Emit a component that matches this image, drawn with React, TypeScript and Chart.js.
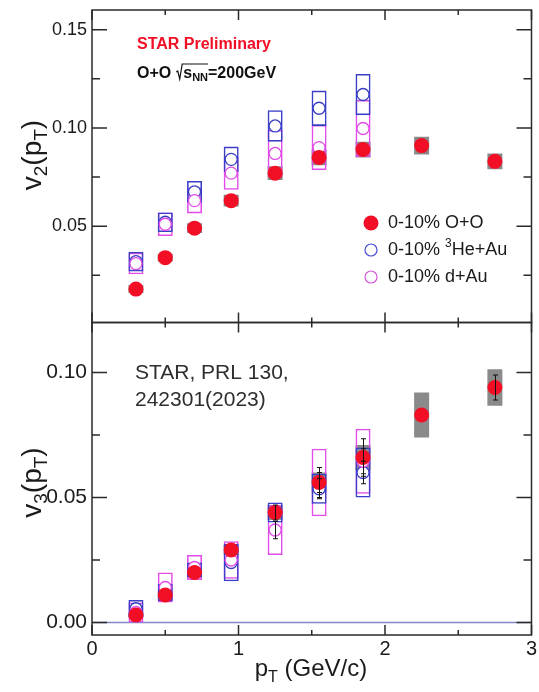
import React, { useEffect, useRef } from "react";
import { Chart, registerables } from "chart.js";

Chart.register(...registerables);

const FONT = "'Liberation Sans', Arial, Helvetica, sans-serif";

// ---- data ----
const pT = [0.3, 0.5, 0.7, 0.95, 1.25, 1.55, 1.85, 2.25, 2.75];
const pTSmall = [0.3, 0.5, 0.7, 0.95, 1.25, 1.55, 1.85];

const v2OO = [0.018, 0.034, 0.049, 0.063, 0.077, 0.085, 0.089, 0.091, 0.083];
const v2OOSys = [0.002, 0.002, 0.0025, 0.003, 0.0035, 0.004, 0.004, 0.0045, 0.004];
const v2HeAu = [0.032, 0.052, 0.0675, 0.084, 0.101, 0.11, 0.117];
const v2HeAuSys = [0.005, 0.005, 0.0055, 0.0065, 0.008, 0.009, 0.0105];
const v2dAu = [0.031, 0.051, 0.063, 0.077, 0.087, 0.09, 0.0997];
const v2dAuSys = [0.0055, 0.006, 0.0065, 0.0085, 0.012, 0.0115, 0.0145];

const v3OO = [0.003, 0.011, 0.02, 0.029, 0.044, 0.056, 0.066, 0.083, 0.094];
const v3OOStat = [0.001, 0.001, 0.001, 0.0015, 0.002, 0.006, 0.0075, 0.0025, 0.005];
const v3OOSys = [0.001, 0.0015, 0.002, 0.002, 0.003, 0.004, 0.005, 0.009, 0.0073];
const v3HeAu = [0.0055, 0.012, 0.021, 0.024, 0.044, 0.0535, 0.06];
const v3HeAuStat = [0.001, 0.001, 0.0015, 0.002, 0.003, 0.004, 0.0045];
const v3HeAuSys = [0.0035, 0.0035, 0.003, 0.0075, 0.004, 0.006, 0.01];
const v3dAu = [0.004, 0.014, 0.022, 0.025, 0.037, 0.056, 0.0645];
const v3dAuStat = [0.001, 0.0015, 0.002, 0.002, 0.0035, 0.004, 0.005];
const v3dAuSys = [0.004, 0.006, 0.005, 0.0075, 0.01, 0.0135, 0.013];

const xTicks = [0, 1, 2, 3];
const xTickLabels = ["0", "1", "2", "3"];
const xMinorTicks = [0.5, 1.5, 2.5];
const v2Ticks = [0.05, 0.1, 0.15];
const v2TickLabels = ["0.05", "0.10", "0.15"];
const v2MinorTicks = [0.025, 0.075, 0.125];
const v3Ticks = [0, 0.05, 0.1];
const v3TickLabels = ["0.00", "0.05", "0.10"];
const v3MinorTicks = [0.025, 0.075];

const legendLabels = ["0-10% O+O", "0-10% ", "0-10% d+Au"];

// ---- colours ----
const RED = "rgb(242,14,36)";
const BLUE = "#3a3fc6";
const MAG = "#e24ce8";
const GRAY = "#8a8a8a";
const FRAME = "#2a2a2a";

type Part = { t: string; size: number; dy?: number; bold?: boolean; color?: string };

function richWidth(ctx: CanvasRenderingContext2D, parts: Part[]) {
  let w = 0;
  for (const p of parts) {
    ctx.font = `${p.bold ? "bold " : ""}${p.size}px ${FONT}`;
    w += ctx.measureText(p.t).width;
  }
  return w;
}

function drawRich(ctx: CanvasRenderingContext2D, x: number, y: number, parts: Part[], color: string) {
  let cx = x;
  for (const p of parts) {
    ctx.font = `${p.bold ? "bold " : ""}${p.size}px ${FONT}`;
    ctx.fillStyle = p.color || color;
    ctx.fillText(p.t, cx, y + (p.dy || 0));
    cx += ctx.measureText(p.t).width;
  }
  return cx;
}

function boxDataset(label: string, xs: number[], ys: number[], errs: number[], axis: string, stroke: string, fill: string, order: number) {
  return {
    type: "bar" as const,
    label,
    data: xs.map((x, i) => ({ x, y: [ys[i] - errs[i], ys[i] + errs[i]] })),
    xAxisID: "x",
    yAxisID: axis,
    backgroundColor: fill,
    borderColor: stroke,
    borderWidth: fill === "transparent" ? 1.6 : 0,
    borderSkipped: false,
    barThickness: 15,
    grouped: false,
    inflateAmount: 0,
    order,
  };
}

function pointDataset(label: string, xs: number[], ys: number[], axis: string, stroke: string, fill: string, radius: number, bw: number, order: number) {
  return {
    type: "scatter" as const,
    label,
    data: xs.map((x, i) => ({ x, y: ys[i] })),
    xAxisID: "x",
    yAxisID: axis,
    showLine: false,
    pointStyle: "circle",
    pointRadius: radius,
    pointBackgroundColor: fill,
    pointBorderColor: stroke,
    pointBorderWidth: bw,
    order,
  };
}

const decorPlugin = {
  id: "decor",
  beforeDatasetsDraw(chart: any) {
    const { ctx } = chart;
    const x = chart.scales.x;
    const yb = chart.scales.yBot;
    const y0 = yb.getPixelForValue(0);
    ctx.save();
    ctx.strokeStyle = "#7f88c8";
    ctx.lineWidth = 1.5;
    ctx.beginPath();
    ctx.moveTo(x.left, y0);
    ctx.lineTo(x.right, y0);
    ctx.stroke();
    ctx.restore();
  },
  afterDatasetsDraw(chart: any) {
    const { ctx } = chart;
    const x = chart.scales.x;
    const yt = chart.scales.yTop;
    const yb = chart.scales.yBot;
    const L = x.left;
    const R = x.right;

    ctx.save();
    // error bars (bottom panel)
    const drawErr = (xs: number[], ys: number[], errs: number[], sc: any, minPx: number) => {
      ctx.strokeStyle = "#111";
      ctx.lineWidth = 1;
      xs.forEach((xv, i) => {
        const px = Math.round(x.getPixelForValue(xv)) + 0.5;
        const top = sc.getPixelForValue(ys[i] + errs[i]);
        const bot = sc.getPixelForValue(ys[i] - errs[i]);
        if ((bot - top) / 2 <= minPx) return;
        ctx.beginPath();
        ctx.moveTo(px, top);
        ctx.lineTo(px, bot);
        ctx.moveTo(px - 2.5, top);
        ctx.lineTo(px + 2.5, top);
        ctx.moveTo(px - 2.5, bot);
        ctx.lineTo(px + 2.5, bot);
        ctx.stroke();
      });
    };
    drawErr(pTSmall, v3HeAu, v3HeAuStat, yb, 6.5);
    drawErr(pTSmall, v3dAu, v3dAuStat, yb, 6.5);
    drawErr(pT, v3OO, v3OOStat, yb, 7.5);

    // frames and ticks
    const panels = [
      { s: yt, major: v2Ticks, minor: v2MinorTicks },
      { s: yb, major: v3Ticks, minor: v3MinorTicks },
    ];
    ctx.strokeStyle = FRAME;
    ctx.lineWidth = 1.5;
    for (const p of panels) {
      const T = p.s.top;
      const B = p.s.bottom;
      ctx.strokeRect(L, T, R - L, B - T);
      ctx.beginPath();
      for (const v of p.major) {
        const py = p.s.getPixelForValue(v);
        ctx.moveTo(L, py); ctx.lineTo(L + 15, py);
        ctx.moveTo(R, py); ctx.lineTo(R - 15, py);
      }
      for (const v of p.minor) {
        const py = p.s.getPixelForValue(v);
        ctx.moveTo(L, py); ctx.lineTo(L + 8, py);
        ctx.moveTo(R, py); ctx.lineTo(R - 8, py);
      }
      for (const v of xTicks) {
        const px = x.getPixelForValue(v);
        ctx.moveTo(px, T); ctx.lineTo(px, T + 10);
        ctx.moveTo(px, B); ctx.lineTo(px, B - 10);
      }
      for (const v of xMinorTicks) {
        const px = x.getPixelForValue(v);
        ctx.moveTo(px, T); ctx.lineTo(px, T + 5);
        ctx.moveTo(px, B); ctx.lineTo(px, B - 5);
      }
      ctx.stroke();
    }

    // axis titles
    ctx.textBaseline = "alphabetic";
    ctx.textAlign = "left";
    const yTitle = (n: string): Part[] => [
      { t: "v", size: 28 },
      { t: n, size: 19, dy: 6 },
      { t: "(p", size: 28 },
      { t: "T", size: 19, dy: 6 },
      { t: ")", size: 28 },
    ];
    const titles = [
      { parts: yTitle("2"), cy: yt.top + 145 },
      { parts: yTitle("3"), cy: yb.top + 160 },
    ];
    for (const t of titles) {
      const w = richWidth(ctx, t.parts);
      ctx.save();
      ctx.translate(41, t.cy);
      ctx.rotate(-Math.PI / 2);
      drawRich(ctx, -w / 2, 0, t.parts, "#1a1a1a");
      ctx.restore();
    }
    const xt: Part[] = [
      { t: "p", size: 24 },
      { t: "T", size: 16, dy: 6 },
      { t: " (GeV/c)", size: 24 },
    ];
    const xw = richWidth(ctx, xt);
    drawRich(ctx, 311 - xw / 2, 676, xt, "#1a1a1a");

    // annotations
    ctx.font = `bold 16px ${FONT}`;
    ctx.fillStyle = RED;
    ctx.fillText("STAR Preliminary", L + 45, yt.top + 39);
    const bx = L + 45;
    const by = yt.top + 68;
    let cx = drawRich(ctx, bx, by, [{ t: "O+O", size: 16, bold: true }], "#111");
    cx += 5;
    // radical sign
    ctx.strokeStyle = "#111";
    ctx.lineWidth = 1.2;
    const sEnd = cx + 7 + richWidth(ctx, [{ t: "s", size: 16, bold: true }, { t: "NN", size: 11, bold: true }]);
    ctx.beginPath();
    ctx.moveTo(cx, by - 6);
    ctx.lineTo(cx + 1.5, by - 7);
    ctx.lineTo(cx + 3.5, by + 1);
    ctx.lineTo(cx + 6, by - 14);
    ctx.lineTo(sEnd, by - 14);
    ctx.stroke();
    drawRich(
      ctx,
      cx + 7,
      by,
      [
        { t: "s", size: 16, bold: true },
        { t: "NN", size: 11, bold: true, dy: 3 },
        { t: "=200GeV", size: 16, bold: true },
      ],
      "#111"
    );

    ctx.font = `21px ${FONT}`;
    ctx.fillStyle = "#2e2e2e";
    ctx.fillText("STAR, PRL 130,", L + 43, yb.top + 56);
    ctx.fillText("242301(2023)", L + 43, yb.top + 83);

    // legend
    const lx = 371;
    const rows = [yt.top + 213, yt.top + 240, yt.top + 267];
    ctx.textBaseline = "middle";
    ctx.beginPath();
    ctx.arc(lx, rows[0], 7.5, 0, Math.PI * 2);
    ctx.fillStyle = RED;
    ctx.fill();
    ctx.lineWidth = 1.2;
    ctx.beginPath();
    ctx.arc(lx, rows[1], 6, 0, Math.PI * 2);
    ctx.strokeStyle = "#4a4fd6";
    ctx.stroke();
    ctx.beginPath();
    ctx.arc(lx, rows[2], 6, 0, Math.PI * 2);
    ctx.strokeStyle = "#d357d8";
    ctx.stroke();
    const tx = 388;
    drawRich(ctx, tx, rows[0], [{ t: legendLabels[0], size: 18 }], "#1a1a1a");
    drawRich(
      ctx,
      tx,
      rows[1],
      [
        { t: legendLabels[1], size: 18 },
        { t: "3", size: 12, dy: -6 },
        { t: "He+Au", size: 18 },
      ],
      "#1a1a1a"
    );
    drawRich(ctx, tx, rows[2], [{ t: legendLabels[2], size: 18 }], "#1a1a1a");
    ctx.restore();
  },
};

const noPadY = (s: any) => {
  s.width = 92;
  s.paddingTop = 0;
  s.paddingBottom = 0;
};

export default function App() {
  const ref = useRef<HTMLCanvasElement | null>(null);
  useEffect(() => {
    document.body.style.margin = "0";
    const canvas = ref.current;
    if (!canvas) return;
    const datasets: any[] = [
      boxDataset("OO v2 sys", pT, v2OO, v2OOSys, "yTop", GRAY, GRAY, 4),
      boxDataset("dAu v2 sys", pTSmall, v2dAu, v2dAuSys, "yTop", MAG, "transparent", 3),
      boxDataset("HeAu v2 sys", pTSmall, v2HeAu, v2HeAuSys, "yTop", BLUE, "transparent", 2),
      pointDataset("0-10% d+Au v2", pTSmall, v2dAu, "yTop", MAG, "#fff", 6, 1.3, 1),
      pointDataset("0-10% 3He+Au v2", pTSmall, v2HeAu, "yTop", BLUE, "#fff", 6, 1.3, 1),
      pointDataset("0-10% O+O v2", pT, v2OO, "yTop", RED, RED, 7.5, 0, 0),
      boxDataset("OO v3 sys", pT, v3OO, v3OOSys, "yBot", GRAY, GRAY, 4),
      boxDataset("dAu v3 sys", pTSmall, v3dAu, v3dAuSys, "yBot", MAG, "transparent", 3),
      boxDataset("HeAu v3 sys", pTSmall, v3HeAu, v3HeAuSys, "yBot", BLUE, "transparent", 2),
      pointDataset("0-10% d+Au v3", pTSmall, v3dAu, "yBot", MAG, "#fff", 6, 1.3, 1),
      pointDataset("0-10% 3He+Au v3", pTSmall, v3HeAu, "yBot", BLUE, "#fff", 6, 1.3, 1),
      pointDataset("0-10% O+O v3", pT, v3OO, "yBot", RED, RED, 7.5, 0, 0),
    ];
    const chart = new Chart(canvas, {
      type: "scatter",
      data: { datasets },
      options: {
        responsive: false,
        animation: false,
        devicePixelRatio: 1,
        events: [],
        layout: { padding: { left: 0, right: 6, top: 10, bottom: 0 } },
        plugins: { legend: { display: false }, tooltip: { enabled: false } },
        scales: {
          x: {
            type: "linear",
            position: "bottom",
            min: 0,
            max: 3,
            offset: false,
            grid: { display: false, drawTicks: false, offset: false },
            border: { display: false },
            afterBuildTicks: (s: any) => {
              s.ticks = xTicks.map((v) => ({ value: v }));
            },
            ticks: {
              autoSkip: false,
              maxRotation: 0,
              padding: 2,
              color: "#1a1a1a",
              font: { family: FONT, size: 20 },
              callback: (_v: any, i: number) => xTickLabels[i],
            },
            afterFit: (s: any) => {
              s.height = 57;
              s.paddingLeft = 0;
              s.paddingRight = 0;
            },
          },
          yBot: {
            type: "linear",
            position: "left",
            stack: "panels",
            stackWeight: 1,
            min: -0.005,
            max: 0.12,
            grid: { display: false, drawTicks: false },
            border: { display: false },
            afterBuildTicks: (s: any) => {
              s.ticks = v3Ticks.map((v) => ({ value: v }));
            },
            ticks: {
              autoSkip: false,
              padding: 5,
              color: "#1a1a1a",
              font: { family: FONT, size: 21 },
              callback: (_v: any, i: number) => v3TickLabels[i],
            },
            afterFit: noPadY,
          },
          yTop: {
            type: "linear",
            position: "left",
            stack: "panels",
            stackWeight: 1,
            min: 0.001,
            max: 0.16,
            grid: { display: false, drawTicks: false },
            border: { display: false },
            afterBuildTicks: (s: any) => {
              s.ticks = v2Ticks.map((v) => ({ value: v }));
            },
            ticks: {
              autoSkip: false,
              padding: 5,
              color: "#1a1a1a",
              font: { family: FONT, size: 18 },
              callback: (_v: any, i: number) => v2TickLabels[i],
            },
            afterFit: noPadY,
          },
        },
      } as any,
      plugins: [decorPlugin],
    });
    return () => chart.destroy();
  }, []);
  return (
    <div style={{ width: 539, height: 692, position: "relative", background: "#fff" }}>
      <canvas ref={ref} width={539} height={692} style={{ display: "block" }} />
    </div>
  );
}
